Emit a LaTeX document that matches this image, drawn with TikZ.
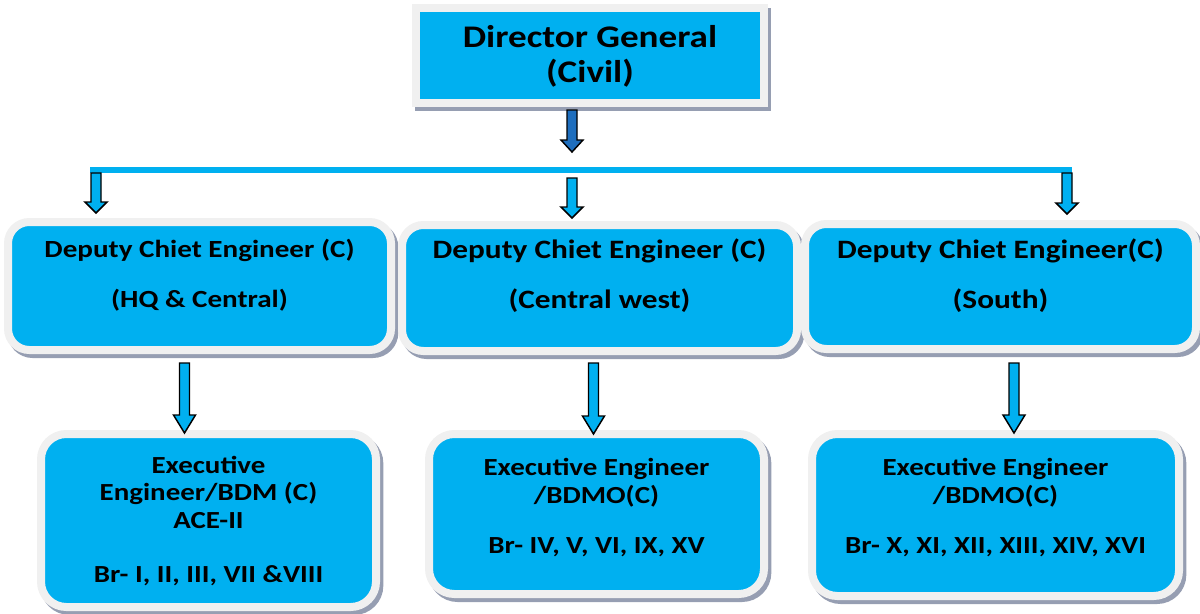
\documentclass[tikz,border=0pt]{standalone}
\usepackage{fontspec}
\setmainfont{Carlito}[FakeStretch=1.18]
\usepackage{tikz}
\usetikzlibrary{calc, shadows}

\definecolor{boxcyan}{RGB}{0,176,240}
\definecolor{boxrim}{RGB}{240,240,240}
\definecolor{rimshadow}{RGB}{150,158,178}
\definecolor{dgblue}{RGB}{30,110,190}

% block arrow: fill, start, point giving the tip level, head length
\newcommand{\blockarrow}[4]{%
  \draw[blockarr, fill=#1] let \p1=#2, \p2=#3 in
    (\x1-3.75pt,\y1) -- (\x1+3.75pt,\y1) -- (\x1+3.75pt,\y2+#4)
    -- (\x1+8.25pt,\y2+#4) -- (\x1,\y2) -- (\x1-8.25pt,\y2+#4)
    -- (\x1-3.75pt,\y2+#4) -- cycle;}

\begin{document}
\begin{tikzpicture}[x=0.75pt, y=-0.75pt,
  box/.style={draw=boxrim, fill=boxcyan, line width=6pt, align=center,
              text depth=0pt,
              drop shadow={shadow xshift=2.5pt, shadow yshift=-3pt, opacity=1,
                           fill=rimshadow, draw=rimshadow, line width=6pt}},
  dgbox/.style={box, font=\fontsize{23.6}{26.25}\selectfont\bfseries},
  dcebox/.style={box, rounded corners=16pt,
                 font=\fontsize{19.9}{37.5}\selectfont\bfseries},
  eebox/.style={box, rounded corners=19pt,
                font=\fontsize{18.4}{20.5}\selectfont\bfseries},
  bus/.style={draw=boxcyan, line width=4.5pt},
  blockarr/.style={draw=black, line width=1.1pt, line join=miter}
]
\useasboundingbox (0,0) rectangle (1200,614);

%% Director General
\node[dgbox, minimum width=261pt, minimum height=71.25pt, text height=39.75pt]
  at (590,55.5) (dg) {Director General\\(Civil)};

%% Deputy Chief Engineers
\node[dcebox, minimum width=287.25pt, minimum height=96pt, text height=31.5pt,
      font=\fontsize{18.5}{37.5}\selectfont\bfseries]
  at (199.5,286) (dhq) {Deputy Chiet Engineer (C)\\(HQ \& Central)};
\node[dcebox, minimum width=296.25pt, minimum height=94.5pt, text height=30pt]
  at (599.5,288) (dcw) {Deputy Chiet Engineer (C)\\(Central west)};
\node[dcebox, minimum width=293.25pt, minimum height=93.75pt, text height=32.25pt]
  at (1000.5,286.5) (dso) {Deputy Chiet Engineer(C)\\(South)};

%% Executive Engineers
\node[eebox, minimum width=251.25pt, minimum height=129.75pt, text height=92.25pt]
  at (208.5,520.5) (ehq) {Executive\\Engineer/BDM (C)\\ACE-II\\[20pt]Br- I, II, III, VII \&VIII};
\node[eebox, minimum width=251.25pt, minimum height=120pt, text height=58.5pt]
  at (596.5,514) (ecw) {Executive Engineer\\/BDMO(C)\\[17pt]Br- IV, V, VI, IX, XV};
\node[eebox, minimum width=275.25pt, minimum height=121.5pt, text height=57pt]
  at (995.5,515) (eso) {Executive Engineer\\/BDMO(C)\\[17pt]Br- X, XI, XII, XIII, XIV, XVI};

%% Distribution line
\coordinate (busl) at (90,170);
\coordinate (busr) at (1072,170);
\draw[bus] (busl) -- (busr);

%% Arrows
\blockarrow{dgblue}{($(dg.south)+(-18,3)$)}{($(dg.south |- busl)+(0,-18)$)}{9pt}
\blockarrow{boxcyan}{($(busl)+(6,3)$)}{($(dhq.north)+(0,-5)$)}{8.25pt}
\blockarrow{boxcyan}{($(dg.south |- busl)+(-18,8)$)}{($(dcw.north)+(0,-3)$)}{8.25pt}
\blockarrow{boxcyan}{($(busr)+(-5,3)$)}{($(dso.north)+(0,-6)$)}{8.25pt}
\blockarrow{boxcyan}{($(dhq.south)+(-15,9)$)}{($(ehq.north)+(0,3)$)}{13.5pt}
\blockarrow{boxcyan}{($(dcw.south)+(-6,8)$)}{($(ecw.north)+(0,4)$)}{13.5pt}
\blockarrow{boxcyan}{($(dso.south)+(13.5,10)$)}{($(eso.north)+(0,3)$)}{13.5pt}
\end{tikzpicture}
\end{document}
